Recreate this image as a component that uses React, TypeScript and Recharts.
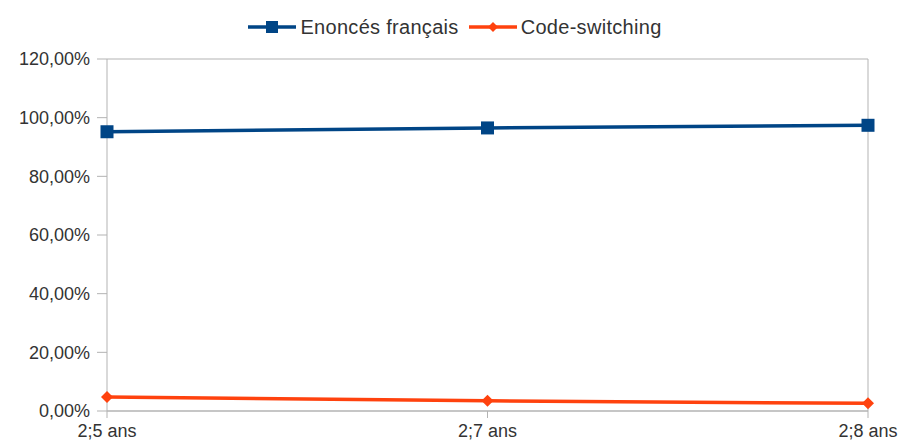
import { CartesianGrid, Legend, Line, LineChart, XAxis, YAxis } from "recharts";

const ages = ["2;5 ans", "2;7 ans", "2;8 ans"];
const enoncesFrancais = [95.2, 96.5, 97.4];
const codeSwitching = [4.8, 3.5, 2.6];
const yTicks = [0, 20, 40, 60, 80, 100, 120];

const data = ages.map((age, i) => ({
  age,
  francais: enoncesFrancais[i],
  codeSwitching: codeSwitching[i]
}));

const blue = "#004586";
const orange = "#ff420e";
const grid = "#b3b3b3";
const textColor = "#333333";
const font = "'Liberation Sans', Arial, sans-serif";

function formatPercent(value: number): string {
  return value.toFixed(2).replace(".", ",") + "%";
}

function SquareDot({ cx, cy }: { cx?: number; cy?: number }) {
  if (cx == null || cy == null) return null;
  return <rect x={cx - 6.5} y={cy - 6.5} width={13} height={13} fill={blue} />;
}

function DiamondDot({ cx, cy }: { cx?: number; cy?: number }) {
  if (cx == null || cy == null) return null;
  const r = 6;
  return <polygon points={`${cx},${cy - r} ${cx + r},${cy} ${cx},${cy + r} ${cx - r},${cy}`} fill={orange} />;
}

function LegendContent() {
  const items = [
    { name: "Enoncés français", color: blue, marker: "square" },
    { name: "Code-switching", color: orange, marker: "diamond" }
  ];
  return (
    <div
      style={{
        display: "flex",
        justifyContent: "center",
        gap: 10,
        height: 20,
        lineHeight: "20px",
        fontFamily: font,
        fontSize: 20,
        color: textColor,
        paddingLeft: 6
      }}
    >
      {items.map((item) => (
        <div key={item.name} style={{ display: "flex", alignItems: "center", gap: 4 }}>
          <svg width={48} height={16}>
            <line x1={0} y1={8} x2={48} y2={8} stroke={item.color} strokeWidth={3.5} />
            {item.marker === "square" ? (
              <rect x={18} y={2} width={12} height={12} fill={item.color} />
            ) : (
              <polygon points="24,3 29,8 24,13 19,8" fill={item.color} />
            )}
          </svg>
          <span style={{ letterSpacing: 0.3 }}>{item.name}</span>
        </div>
      ))}
    </div>
  );
}

export default function App() {
  return (
    <div style={{ position: "absolute", left: 0, top: 0, background: "#fff" }}>
      <LineChart width={904} height={441} data={data} margin={{ top: 39, right: 0, bottom: 0, left: 0 }}>
        <CartesianGrid stroke={grid} vertical={false} />
        <XAxis
          dataKey="age"
          height={30}
          stroke={grid}
          tickSize={7}
          tickMargin={6}
          tick={{ fill: textColor, fontSize: 18, fontFamily: font }}
        />
        <YAxis
          yAxisId="left"
          domain={[0, 120]}
          ticks={yTicks}
          width={107}
          stroke={grid}
          tickSize={10}
          tickMargin={7}
          tickFormatter={formatPercent}
          tick={{ fill: textColor, fontSize: 18, fontFamily: font }}
        />
        <YAxis yAxisId="right" orientation="right" width={36} stroke={grid} tick={false} tickLine={false} />
        <Legend verticalAlign="top" content={<LegendContent />} wrapperStyle={{ top: 17, left: 0, width: 904 }} />
        <Line
          yAxisId="left"
          dataKey="francais"
          name="Enoncés français"
          stroke={blue}
          strokeWidth={3.5}
          dot={<SquareDot />}
          activeDot={false}
          isAnimationActive={false}
        />
        <Line
          yAxisId="left"
          dataKey="codeSwitching"
          name="Code-switching"
          stroke={orange}
          strokeWidth={3.5}
          dot={<DiamondDot />}
          activeDot={false}
          isAnimationActive={false}
        />
      </LineChart>
    </div>
  );
}
